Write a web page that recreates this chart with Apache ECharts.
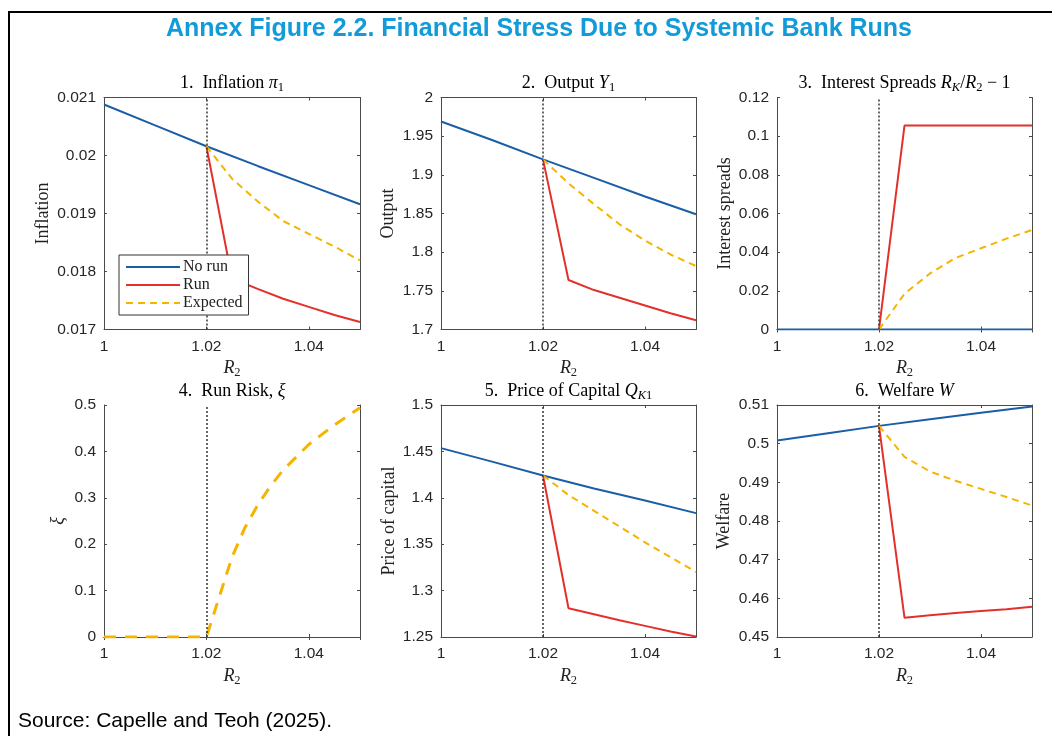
<!DOCTYPE html>
<html>
<head>
<meta charset="utf-8">
<script src="https://cdn.jsdelivr.net/npm/echarts@6/dist/echarts.min.js"></script>
<style>
  html, body { margin: 0; padding: 0; background: #fff; }
  #chart { width: 1052px; height: 736px; }
</style>
</head>
<body>
<div id="chart"></div>
<script>
// Deposit rate R2 grid: no-run branch spans the full range, run branch starts at the threshold
const r2Full = [1, 1.01, 1.02, 1.03, 1.04, 1.05];
const r2Post = [1.02, 1.025, 1.03, 1.035, 1.04, 1.045, 1.05];
const r2Xi = [1, 1.01, 1.02, 1.025, 1.0275, 1.03, 1.0325, 1.035, 1.04, 1.045, 1.05];
const runThreshold = 1.02;

// 1. Inflation
const noRunInflation = [0.02088, 0.02052, 0.02016, 0.01982, 0.01949, 0.01916];
const runInflation = [0.02016, 0.01788, 0.01770, 0.01753, 0.01739, 0.01725, 0.01713];
const expInflation = [0.02016, 0.01960, 0.01921, 0.01887, 0.01865, 0.01843, 0.01819];

// 2. Output
const noRunOutput = [1.969, 1.945, 1.920, 1.896, 1.872, 1.849];
const runOutput = [1.920, 1.764, 1.751, 1.741, 1.731, 1.721, 1.712];
const expOutput = [1.920, 1.889, 1.862, 1.836, 1.815, 1.797, 1.782];

// 3. Interest spreads
const noRunSpread = [0, 0, 0, 0, 0, 0];
const runSpread = [0, 0.1055, 0.1055, 0.1055, 0.1055, 0.1055, 0.1055];
const expSpread = [0, 0.0185, 0.029, 0.037, 0.042, 0.047, 0.0515];

// 4. Run risk
const runRisk = [0, 0, 0, 0.172, 0.235, 0.284, 0.325, 0.36, 0.415, 0.457, 0.494];

// 5. Price of capital
const noRunQ = [1.4535, 1.439, 1.424, 1.410, 1.397, 1.3835];
const runQ = [1.424, 1.281, 1.2745, 1.268, 1.262, 1.256, 1.2505];
const expQ = [1.424, 1.403, 1.386, 1.369, 1.352, 1.336, 1.320];

// 6. Welfare
const noRunW = [0.5008, 0.5027, 0.5046, 0.5063, 0.5080, 0.5096];
const runW = [0.5046, 0.4550, 0.4556, 0.4562, 0.4567, 0.4572, 0.4578];
const expW = [0.5046, 0.4966, 0.4928, 0.4904, 0.4883, 0.4862, 0.4840];

// Axis ranges and tick steps
const xRange = [1, 1.05, 0.02];
const yRanges = [
  [0.017, 0.021, 0.001],
  [1.7, 2, 0.05],
  [0, 0.12, 0.02],
  [0, 0.5, 0.1],
  [1.25, 1.5, 0.05],
  [0.45, 0.51, 0.01]
];

const legendNames = ['No run', 'Run', 'Expected'];

const BLUE = '#1a5ea8';
const RED = '#e2312b';
const GOLD = '#f5b400';
const SERIF = '"Liberation Serif", "DejaVu Serif", serif';
const SANS = '"Liberation Sans", Arial, sans-serif';
const AXIS_COLOR = '#4a4a4a';

const zip = (xs, ys) => xs.map((x, i) => [x, ys[i]]);

const serifRich = {
  a: { fontFamily: SERIF, fontSize: 18, color: '#222', lineHeight: 22 },
  i: { fontFamily: SERIF, fontSize: 18, fontStyle: 'italic', color: '#222', lineHeight: 22 },
  s: { fontFamily: SERIF, fontSize: 12.5, color: '#222', lineHeight: 12, verticalAlign: 'bottom' },
  si: { fontFamily: SERIF, fontSize: 12.5, fontStyle: 'italic', color: '#222', lineHeight: 12, verticalAlign: 'bottom' }
};

const grids = [
  { left: 104, top: 97.5, width: 256, height: 232 },
  { left: 441, top: 97.5, width: 255, height: 232 },
  { left: 777, top: 97.5, width: 255, height: 232 },
  { left: 104, top: 405, width: 256, height: 232 },
  { left: 441, top: 405, width: 255, height: 232 },
  { left: 777, top: 405, width: 255, height: 232 }
];

const panelTitles = [
  '{a|1.  Inflation }{i|π}{s|1}',
  '{a|2.  Output }{i|Y}{s|1}',
  '{a|3.  Interest Spreads }{i|R}{si|K}{a|/}{i|R}{s|2}{a| − 1}',
  '{a|4.  Run Risk, }{i|ξ}',
  '{a|5.  Price of Capital }{i|Q}{si|K}{s|1}',
  '{a|6.  Welfare }{i|W}'
];
const yNames = ['{a|Inflation}', '{a|Output}', '{a|Interest spreads}', '{i|ξ}', '{a|Price of capital}', '{a|Welfare}'];
const yNameGaps = [50, 42, 41, 35, 41, 42];

const fmt = v => String(+v.toFixed(4));

const xAxes = [];
const yAxes = [];
grids.forEach((g, i) => {
  xAxes.push({
    type: 'value', gridIndex: i, position: 'bottom',
    min: xRange[0], max: xRange[1], interval: xRange[2],
    axisLine: { show: true, lineStyle: { color: AXIS_COLOR, width: 1 } },
    axisTick: { show: true, inside: true, length: 3, lineStyle: { color: AXIS_COLOR } },
    axisLabel: { show: true, formatter: fmt, showMaxLabel: false, margin: 9,
      fontFamily: SANS, fontSize: 15.5, color: '#262626' },
    splitLine: { show: false },
    name: '{i|R}{s|2}', nameLocation: 'middle', nameGap: 28,
    nameTextStyle: { rich: serifRich }
  });
  xAxes.push({
    type: 'value', gridIndex: i, position: 'top',
    min: xRange[0], max: xRange[1], interval: xRange[2],
    axisLine: { show: true, lineStyle: { color: AXIS_COLOR, width: 1 } },
    axisTick: { show: true, inside: true, length: 3, lineStyle: { color: AXIS_COLOR } },
    axisLabel: { show: false }, splitLine: { show: false }
  });
  const yr = yRanges[i];
  yAxes.push({
    type: 'value', gridIndex: i, position: 'left',
    min: yr[0], max: yr[1], interval: yr[2],
    axisLine: { show: true, lineStyle: { color: AXIS_COLOR, width: 1 } },
    axisTick: { show: true, inside: true, length: 3, lineStyle: { color: AXIS_COLOR } },
    axisLabel: { show: true, formatter: fmt, margin: 8,
      fontFamily: SANS, fontSize: 15.5, color: '#262626' },
    splitLine: { show: false },
    name: yNames[i], nameLocation: 'middle', nameGap: yNameGaps[i],
    nameTextStyle: { rich: serifRich }
  });
  yAxes.push({
    type: 'value', gridIndex: i, position: 'right',
    min: yr[0], max: yr[1], interval: yr[2],
    axisLine: { show: true, lineStyle: { color: AXIS_COLOR, width: 1 } },
    axisTick: { show: true, inside: true, length: 3, lineStyle: { color: AXIS_COLOR } },
    axisLabel: { show: false }, splitLine: { show: false }
  });
});

const thresholdLine = {
  silent: true,
  symbol: ['none', 'none'],
  label: { show: false },
  lineStyle: { color: '#333', type: [2, 2], width: 1.5 },
  data: [{ xAxis: runThreshold }]
};

function lineSeries(name, panel, data, color, dashed, width) {
  return {
    type: 'line', name, xAxisIndex: panel * 2, yAxisIndex: panel * 2,
    data, symbol: 'none', showSymbol: false, z: 3,
    lineStyle: { color, width: width || 2, type: dashed ? (width ? [12, 9] : [7, 5]) : 'solid' },
    itemStyle: { color }
  };
}

const panelData = [
  [noRunInflation, runInflation, expInflation],
  [noRunOutput, runOutput, expOutput],
  [noRunSpread, runSpread, expSpread],
  null,
  [noRunQ, runQ, expQ],
  [noRunW, runW, expW]
];

const series = [];
panelData.forEach((p, i) => {
  if (!p) {
    const s = lineSeries('Run risk', i, zip(r2Xi, runRisk), GOLD, true, 3);
    s.markLine = thresholdLine;
    series.push(s);
    return;
  }
  const blue = lineSeries('No run', i, zip(r2Full, p[0]), BLUE, false);
  blue.markLine = thresholdLine;
  series.push(blue);
  series.push(lineSeries('Run', i, zip(r2Post, p[1]), RED, false));
  series.push(lineSeries('Expected', i, zip(r2Post, p[2]), GOLD, true));
});

const graphics = [
  { type: 'rect', shape: { x: 9, y: 12, width: 2000, height: 2000 },
    style: { fill: 'none', stroke: '#000', lineWidth: 2 }, silent: true },
  { type: 'text', x: 539, y: 29,
    style: { text: 'Annex Figure 2.2. Financial Stress Due to Systemic Bank Runs',
      font: 'bold 25px ' + SANS, fill: '#129bd8', align: 'center', verticalAlign: 'middle' } },
  { type: 'text', x: 18, y: 721,
    style: { text: 'Source: Capelle and Teoh (2025).', font: '21px ' + SANS, fill: '#000',
      align: 'left', verticalAlign: 'middle' } }
];
grids.forEach((g, i) => {
  graphics.push({
    type: 'text', x: g.left + g.width / 2, y: g.top - 14,
    style: { text: panelTitles[i], rich: serifRich, align: 'center', verticalAlign: 'middle' }
  });
});

const chart = echarts.init(document.getElementById('chart'), null, { renderer: 'canvas' });
chart.setOption({
  animation: false,
  backgroundColor: '#fff',
  grid: grids.map(g => Object.assign({ containLabel: false }, g)),
  xAxis: xAxes,
  yAxis: yAxes,
  legend: {
    data: legendNames,
    orient: 'vertical',
    left: 119, top: 255,
    itemWidth: 54, itemHeight: 14, itemGap: 2,
    padding: [4, 6, 4, 6],
    backgroundColor: '#fff',
    borderColor: '#333', borderWidth: 1, borderRadius: 0,
    itemStyle: { opacity: 0 },
    textStyle: { fontFamily: SERIF, fontSize: 16, lineHeight: 14, color: '#222', padding: [0, 0, 0, -2] },
    z: 10
  },
  series,
  graphic: graphics
});
</script>
</body>
</html>
